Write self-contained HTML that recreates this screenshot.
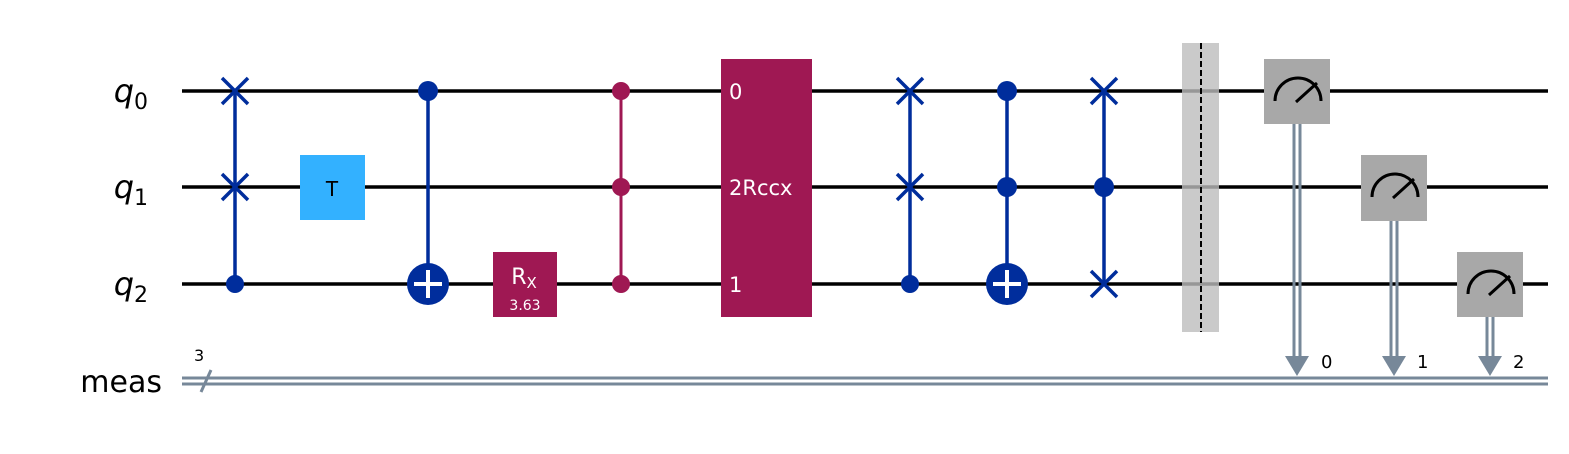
<!DOCTYPE html>
<html><head><meta charset="utf-8"><style>body{margin:0;background:#fff}svg{display:block}</style></head>
<body>
<svg width="1569" height="454" xmlns="http://www.w3.org/2000/svg" font-family="'DejaVu Sans','Liberation Sans',sans-serif">
<rect width="1569" height="454" fill="#fff"/>
<g fill="#000" text-anchor="end">
<text x="148" y="102" font-size="32" font-style="italic">q<tspan font-size="22" dy="7" font-style="normal">0</tspan></text>
<text x="148" y="198" font-size="32" font-style="italic">q<tspan font-size="22" dy="7" font-style="normal">1</tspan></text>
<text x="148" y="295" font-size="32" font-style="italic">q<tspan font-size="22" dy="7" font-style="normal">2</tspan></text>
<text x="162" y="392" font-size="30">meas</text>
</g>
<g stroke="#000" stroke-width="3.5">
<line x1="182" y1="91" x2="1548" y2="91"/>
<line x1="182" y1="187" x2="1548" y2="187"/>
<line x1="182" y1="284" x2="1548" y2="284"/>
</g>
<g stroke="#778899" stroke-width="3">
<line x1="182" y1="378" x2="1548" y2="378"/>
<line x1="182" y1="384" x2="1548" y2="384"/>
<line x1="201" y1="392" x2="211" y2="370"/>
</g>
<text x="194" y="361" font-size="16">3</text>
<g stroke="#002d9c" stroke-width="3.5" fill="#002d9c">
<line x1="235" y1="91" x2="235" y2="284"/>
<path d="M222 78L248 104M248 78L222 104M222 174L248 200M248 174L222 200"/>
<circle cx="235" cy="284" r="9" stroke="none"/>
<line x1="428" y1="91" x2="428" y2="284"/>
<circle cx="428" cy="91" r="10" stroke="none"/>
<circle cx="428" cy="284" r="21" stroke="none"/>
<line x1="910" y1="91" x2="910" y2="284"/>
<path d="M897 78L923 104M923 78L897 104M897 174L923 200M923 174L897 200"/>
<circle cx="910" cy="284" r="9" stroke="none"/>
<line x1="1007" y1="91" x2="1007" y2="284"/>
<circle cx="1007" cy="91" r="10" stroke="none"/>
<circle cx="1007" cy="187" r="10" stroke="none"/>
<circle cx="1007" cy="284" r="21" stroke="none"/>
<line x1="1104" y1="91" x2="1104" y2="284"/>
<path d="M1091 78L1117 104M1117 78L1091 104M1091 271L1117 297M1117 271L1091 297"/>
<circle cx="1104" cy="187" r="10" stroke="none"/>
</g>
<g stroke="#fff" stroke-width="4">
<path d="M428 270V298M414 284H442M1007 270V298M993 284H1021"/>
</g>
<rect x="300" y="155" width="65" height="65" fill="#33b1ff"/>
<text x="332" y="196" font-size="20" text-anchor="middle">T</text>
<rect x="493" y="252" width="64" height="65" fill="#9f1853"/>
<text x="524" y="284" font-size="22" fill="#fff" text-anchor="middle">R<tspan font-size="15" dy="4">X</tspan></text>
<text x="525" y="310" font-size="14" fill="#fff" text-anchor="middle">3.63</text>
<g stroke="#9f1853" stroke-width="3" fill="#9f1853">
<line x1="621" y1="91" x2="621" y2="284"/>
<circle cx="621" cy="91" r="9" stroke="none"/>
<circle cx="621" cy="187" r="9" stroke="none"/>
<circle cx="621" cy="284" r="9" stroke="none"/>
</g>
<rect x="721" y="59" width="91" height="258" fill="#9f1853"/>
<g fill="#fff" font-size="21">
<text x="729" y="99">0</text>
<text x="729" y="195">2Rccx</text>
<text x="729" y="292">1</text>
</g>
<rect x="1182" y="43" width="37" height="289" fill="#bdbdbd" opacity="0.8"/>
<line x1="1201" y1="43" x2="1201" y2="332" stroke="#000" stroke-width="2" stroke-dasharray="6,3"/>
<g stroke="#778899" stroke-width="3" fill="none">
<path d="M1294 124V358M1300 124V358M1391 221V358M1397 221V358M1487 317V358M1493 317V358"/>
</g>
<g fill="#778899">
<path d="M1285 356H1309L1297 376Z"/>
<path d="M1382 356H1406L1394 376Z"/>
<path d="M1478 356H1502L1490 376Z"/>
</g>
<g fill="#a8a8a8">
<rect x="1264" y="59" width="66" height="65"/>
<rect x="1361" y="155" width="66" height="66"/>
<rect x="1457" y="252" width="66" height="65"/>
</g>
<g stroke="#000" stroke-width="3" fill="none">
<path d="M1275 101A23 23 0 0 1 1321 101M1296 102L1317 83"/>
<path d="M1372 197A23 23 0 0 1 1418 197M1393 198L1414 179"/>
<path d="M1468 294A23 23 0 0 1 1514 294M1489 295L1510 276"/>
</g>
<g font-size="18">
<text x="1321" y="368">0</text>
<text x="1417" y="368">1</text>
<text x="1513" y="368">2</text>
</g>
</svg>
</body></html>
